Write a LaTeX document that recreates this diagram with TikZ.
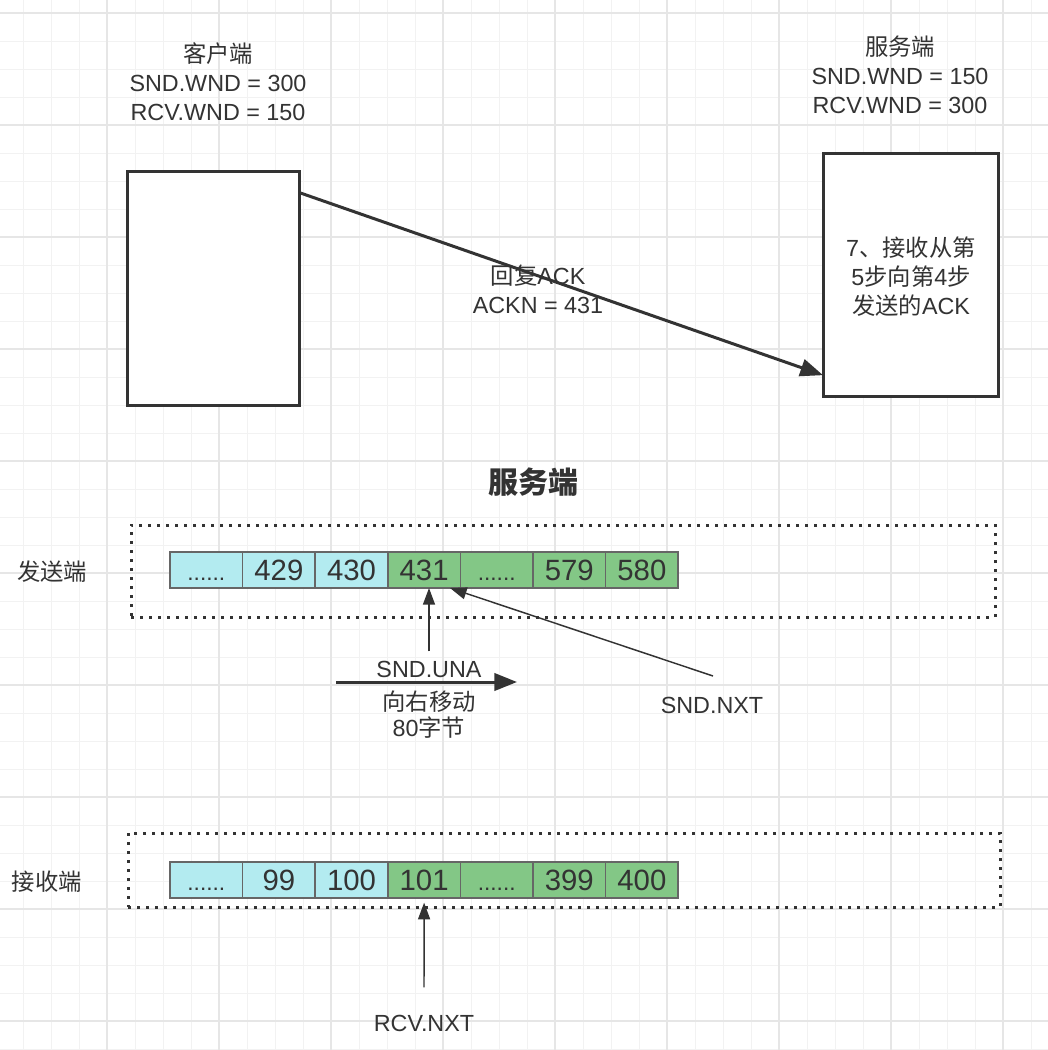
\documentclass[tikz,border=0pt]{standalone}
\usepackage{fontspec}
\setmainfont{Liberation Sans}
\newfontfamily\cjk{Noto Sans CJK SC}
\usetikzlibrary{arrows.meta,calc}
\definecolor{ink}{HTML}{333333}
\definecolor{cyanfill}{HTML}{B3EBF0}
\definecolor{greenfill}{HTML}{83C786}
\definecolor{cellline}{HTML}{666666}
\definecolor{gridminor}{HTML}{F2F2F2}
\definecolor{gridmajor}{HTML}{E6E6E6}
\tikzset{
  gridmin/.style={draw=gridminor, line width=0.75pt},
  gridmaj/.style={draw=gridmajor, line width=1.1pt},
  hostbox/.style={draw=ink, line width=2.25pt, fill=white, inner sep=0pt, outer sep=0pt},
  dotbox/.style={draw=ink, line width=2.25pt, dash pattern=on 2.25pt off 4.5pt, inner sep=0pt, outer sep=0pt},
  lbl/.style={text=ink, align=center, inner sep=0pt, font=\fontsize{17.5}{21.75}\selectfont},
  cellbase/.style={draw=cellline, line width=1.1pt, minimum width=54.45pt, minimum height=27pt, inner sep=0pt, outer sep=0pt, text=ink, font=\fontsize{22}{26}\selectfont, anchor=west, text height=15.6pt, text depth=0pt},
  cellold/.style={cellbase, fill=cyanfill},
  cellnew/.style={cellbase, fill=greenfill},
  thickarrow/.style={draw=ink, line width=2.25pt, -{Triangle[length=17pt, width=13pt]}},
  thinarrow/.style={draw=ink, line width=1.1pt, -{Triangle[length=12.5pt, width=9pt]}},
}
\newcommand\celldots{\fontsize{17}{20}\selectfont......}
\begin{document}
\begin{tikzpicture}[x=0.75pt,y=-0.75pt]
\useasboundingbox (0,0) rectangle (1048,1050);
\fill[white] (0,0) rectangle (1048,1050);
% grid
\foreach \gx in {23,51,...,1048} \draw[gridmin] (\gx,0) -- (\gx,1050);
\foreach \gy in {13,41,...,1050} \draw[gridmin] (0,\gy) -- (1048,\gy);
\foreach \gx in {107,219,...,1048} \draw[gridmaj] (\gx,0) -- (\gx,1050);
\foreach \gy in {13,125,...,1050} \draw[gridmaj] (0,\gy) -- (1048,\gy);

% hosts
\node[lbl] (clientlbl) at (218,82) {{\cjk 客户端}\\SND.WND = 300\\RCV.WND = 150};
\node[hostbox, minimum width=129pt, minimum height=175.5pt] (client) at (213,288) {};
\node[lbl] (serverlbl) at (900,75) {{\cjk 服务端}\\SND.WND = 150\\RCV.WND = 300};
\node[hostbox, minimum width=131.25pt, minimum height=182.25pt] (server) at (910.5,274.5) {};
\node[lbl] (servertxt) at (911,277) {7{\cjk 、接收从第}\\5{\cjk 步向第}4{\cjk 步}\\{\cjk 发送的}ACK};

\draw[thickarrow] (client.48.7) -- (server.229.5);
\node[lbl] (acklbl) at (538,289) {{\cjk 回复}ACK\\ACKN = 431};

% title
\node[text=ink, inner sep=0pt, font=\fontsize{22.5}{26}\selectfont\cjk\bfseries] (title) at (533,482) {服务端};

% sender window
\node[dotbox, minimum width=648pt, minimum height=69pt] (sendframe) at (563,571) {};
\node[lbl] (sendlbl) at (52,572) {\cjk 发送端};
\node[cellold] (c1) at (170,570) {\celldots};
\node[cellold] (c2) at (c1.east) {429};
\node[cellold] (c3) at (c2.east) {430};
\node[cellnew] (c4) at (c3.east) {431};
\node[cellnew] (c5) at (c4.east) {\celldots};
\node[cellnew] (c6) at (c5.east) {579};
\node[cellnew] (c7) at (c6.east) {580};

\node[lbl] (snduna) at (429,669) {SND.UNA};
\node[lbl, font=\fontsize{17.5}{19.5}\selectfont] (movetxt) at (429,715) {{\cjk 向右移动}\\80{\cjk 字节}};
\draw[thinarrow] ($(snduna.north)+(0,-9)$) -- (snduna.north |- c4.south);
\coordinate (movestart) at (336,682);
\coordinate (moveend) at (517,682);
\draw[thickarrow] (movestart) -- (moveend);

\node[lbl] (sndnxt) at (712,705) {SND.NXT};
\coordinate (nxtstart) at (713,676);
\coordinate (nxttip) at (450,588);
\draw[thinarrow] (nxtstart) -- (nxttip);

% receiver window
\node[dotbox, minimum width=654pt, minimum height=55.5pt] (recvframe) at (564,870) {};
\node[lbl] (recvlbl) at (47,882) {\cjk 接收端};
\node[cellold] (d1) at (170,880) {\celldots};
\node[cellold] (d2) at (d1.east) {99};
\node[cellold] (d3) at (d2.east) {100};
\node[cellnew] (d4) at (d3.east) {101};
\node[cellnew] (d5) at (d4.east) {\celldots};
\node[cellnew] (d6) at (d5.east) {399};
\node[cellnew] (d7) at (d6.east) {400};

\node[lbl] (rcvnxt) at (424,1023) {RCV.NXT};
\draw[thinarrow, shorten >=3.5pt] ($(rcvnxt.north)+(0,-27)$) -- (d4.south);
\end{tikzpicture}
\end{document}
